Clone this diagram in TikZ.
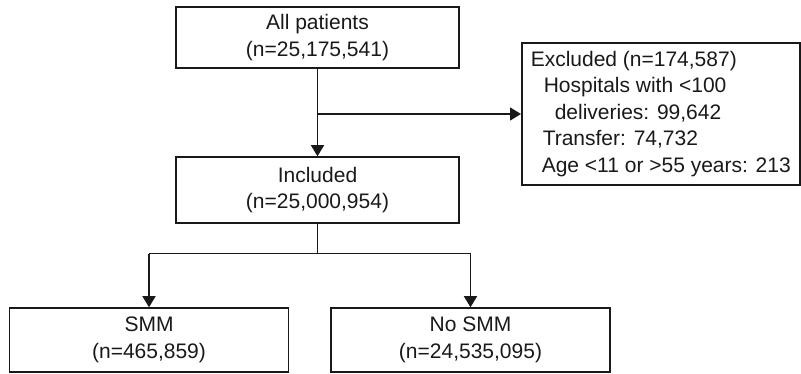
\documentclass[tikz,border=0pt]{standalone}
\usepackage{fontspec}
\setmainfont{Liberation Sans}
\usetikzlibrary{arrows.meta}
\begin{document}
\begin{tikzpicture}[x=1pt,y=-1pt,
  box/.style={draw=black!90, line width=1.5pt, rectangle, inner sep=0pt, align=center,
    text=black!90, font=\fontsize{21}{26.5}\selectfont},
  conn/.style={draw=black!90, line width=1.4pt},
  arr/.style={conn, -{Triangle[length=11pt,width=13pt]}}]
\useasboundingbox (0,0) rectangle (801,374);
\node[box, minimum width=283pt, minimum height=61pt] (top) at (317.5,37.5) {All patients\\(n=25,175,541)};
\node[box, minimum width=283pt, minimum height=66pt] (incl) at (317.5,190) {Included\\(n=25,000,954)};
\node[box, minimum width=278pt, minimum height=142pt, align=left, anchor=west, inner xsep=9pt] (excl) at (521,114)
  {Excluded (n=174,587)\\
   \hspace*{13pt}Hospitals with <100\\
   \hspace*{24pt}deliveries: 99,642\\
   \hspace*{12pt}Transfer: 74,732\\
   \hspace*{11pt}Age <11 or >55 years: 213};
\node[box, minimum width=279pt, minimum height=64pt] (smm) at (149,340) {SMM\\(n=465,859)};
\node[box, minimum width=279pt, minimum height=64pt] (nosmm) at (470.5,340) {No SMM\\(n=24,535,095)};
\coordinate (branch) at (top.south |- excl.west);
\coordinate (split) at ([yshift=-30pt]incl.south);
\draw[arr] (top.south) -- (incl.north);
\draw[arr] (branch) -- (excl.west);
\draw[conn] (incl.south) -- (split);
\draw[conn] (smm.north |- split) -- (nosmm.north |- split);
\draw[arr] (smm.north |- split) -- (smm.north);
\draw[arr] (nosmm.north |- split) -- (nosmm.north);
\end{tikzpicture}
\end{document}
